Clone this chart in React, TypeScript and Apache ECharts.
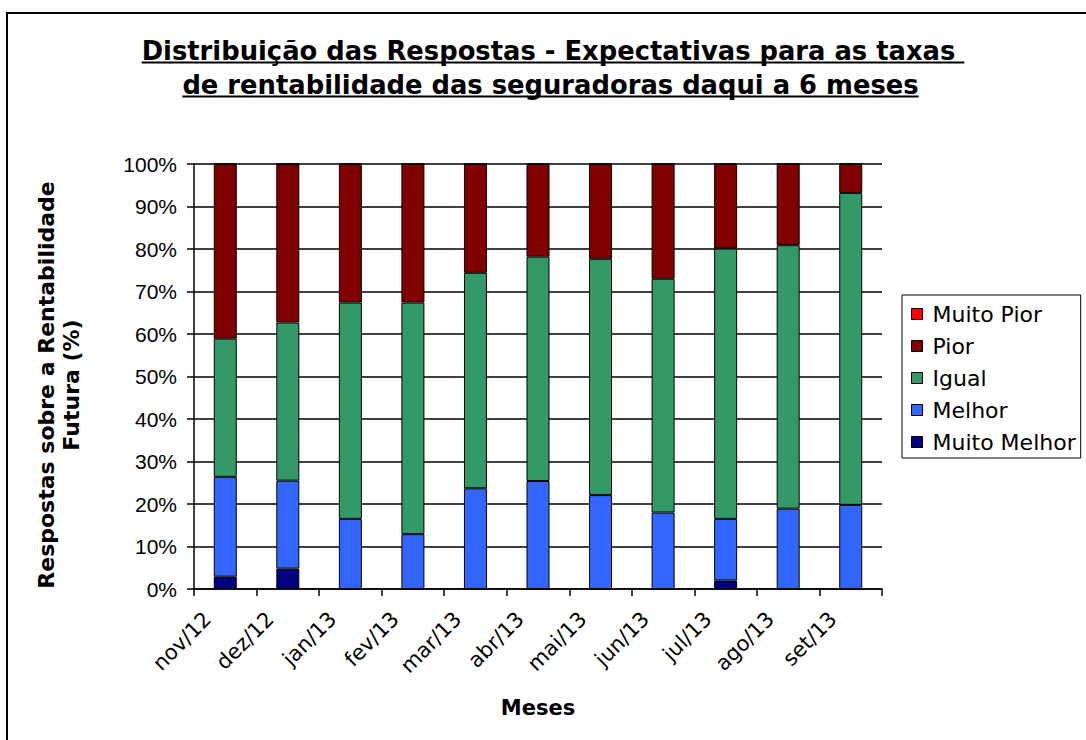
import React, { useEffect, useRef } from "react";
import * as echarts from "echarts";

const categories = ["nov/12", "dez/12", "jan/13", "fev/13", "mar/13", "abr/13", "mai/13", "jun/13", "jul/13", "ago/13", "set/13"];
const muitoMelhor = [2.9, 4.8, 0, 0, 0, 0, 0, 0, 2.0, 0, 0];
const melhor = [23.5, 20.7, 16.5, 12.9, 23.7, 25.4, 22.1, 18.0, 14.5, 18.9, 19.8];
const igual = [32.5, 37.2, 50.9, 54.5, 50.7, 52.8, 55.6, 55.0, 63.6, 62.0, 73.4];
const pior = [41.1, 37.3, 32.6, 32.6, 25.6, 21.8, 22.3, 27.0, 19.9, 19.1, 6.8];
const muitoPior = [0, 0, 0, 0, 0, 0, 0, 0, 0, 0, 0];
const legendOrder = ["Muito Pior", "Pior", "Igual", "Melhor", "Muito Melhor"];
const titleLine1 = "Distribuição das Respostas - Expectativas para as taxas ";
const titleLine2 = "de rentabilidade das seguradoras daqui a 6 meses";
const yAxisTitle = "Respostas sobre a Rentabilidade\nFutura (%)";
const xAxisTitle = "Meses";

const FONT = '"DejaVu Sans", Verdana, sans-serif';

function measure(text: string, font: string): number {
  const c = document.createElement("canvas");
  const ctx = c.getContext("2d");
  if (!ctx) return text.length * 12;
  ctx.font = font;
  return ctx.measureText(text).width;
}

export default function App() {
  const ref = useRef<HTMLDivElement>(null);
  useEffect(() => {
    if (!ref.current) return;
    const chart = echarts.init(ref.current, null, { renderer: "svg" });
    const w100 = measure(titleLine1, `bold 100px ${FONT}`);
    const tfs = Math.round((822 / w100) * 100 * 10) / 10;
    const tw1 = measure(titleLine1, `bold ${tfs}px ${FONT}`);
    const tw2 = measure(titleLine2, `bold ${tfs}px ${FONT}`);
    const c1 = 553;
    const c2 = 550.5;

    const mk = (name: string, data: number[], color: string) => ({
      name,
      type: "bar",
      stack: "total",
      barWidth: 23,
      data,
      itemStyle: { color, borderColor: "#000", borderWidth: 1 },
    });

    chart.setOption({
      animation: false,
      backgroundColor: "#fff",
      grid: { left: 194, right: 204, top: 164, bottom: 151, containLabel: false },
      legend: {
        data: legendOrder,
        orient: "vertical",
        left: 902,
        top: 295,
        itemWidth: 11,
        itemHeight: 11,
        itemGap: 8,
        icon: "rect",
        borderColor: "#000",
        borderWidth: 1,
        padding: [7, 5, 4, 9],
        itemStyle: { borderColor: "#000", borderWidth: 1 },
        textStyle: { fontFamily: FONT, fontSize: 22, color: "#000", lineHeight: 24, padding: [0, 0, 0, 5] },
      },
      xAxis: {
        type: "category",
        data: categories,
        boundaryGap: true,
        name: xAxisTitle,
        nameLocation: "middle",
        nameGap: 108,
        nameTextStyle: { fontFamily: FONT, fontSize: 21, fontWeight: "bold", color: "#000" },
        axisLine: { lineStyle: { color: "#000", width: 1.5 } },
        axisTick: { show: true, interval: 0, length: 7, lineStyle: { color: "#000", width: 1.5 } },
        axisLabel: {
          interval: 0,
          rotate: 45,
          margin: 9,
          padding: [0, 25, 0, 0],
          fontFamily: FONT,
          fontSize: 21,
          color: "#000",
        },
        splitLine: { show: false },
      },
      yAxis: {
        type: "value",
        min: 0,
        max: 100,
        interval: 10,
        name: yAxisTitle,
        nameLocation: "middle",
        nameRotate: 90,
        nameGap: 110,
        nameTextStyle: { fontFamily: FONT, fontSize: 22, fontWeight: "bold", color: "#000", lineHeight: 25, padding: [0, 17, 0, 0] },
        axisLine: { show: true, lineStyle: { color: "#000", width: 1.5 } },
        axisTick: { show: true, length: 7, lineStyle: { color: "#000", width: 1.5 } },
        axisLabel: {
          formatter: "{value}%",
          margin: 17,
          fontFamily: '"Liberation Sans", Arial, sans-serif',
          fontSize: 21,
          color: "#000",
        },
        splitLine: { show: true, lineStyle: { color: "#000", width: 1.5 } },
      },
      series: [
        mk("Muito Melhor", muitoMelhor, "#000080"),
        mk("Melhor", melhor, "#3366FF"),
        mk("Igual", igual, "#339966"),
        mk("Pior", pior, "#800000"),
        mk("Muito Pior", muitoPior, "#FF0000"),
      ],
      graphic: [
        {
          type: "rect",
          shape: { x: 7, y: 13, width: 1100, height: 760 },
          style: { fill: "none", stroke: "#000", lineWidth: 2 },
          silent: true,
          z: -1,
        },
        {
          type: "text",
          x: c1,
          y: 51,
          style: { text: titleLine1, font: `bold ${tfs}px ${FONT}`, fill: "#000", align: "center", verticalAlign: "middle" },
        },
        {
          type: "text",
          x: c2,
          y: 85,
          style: { text: titleLine2, font: `bold ${tfs}px ${FONT}`, fill: "#000", align: "center", verticalAlign: "middle" },
        },
        {
          type: "line",
          shape: { x1: c1 - tw1 / 2, y1: 62.5, x2: c1 + tw1 / 2, y2: 62.5 },
          style: { stroke: "#000", lineWidth: 2 },
        },
        {
          type: "line",
          shape: { x1: c2 - tw2 / 2, y1: 96.5, x2: c2 + tw2 / 2, y2: 96.5 },
          style: { stroke: "#000", lineWidth: 2 },
        },
      ],
    });
    return () => chart.dispose();
  }, []);
  return <div ref={ref} style={{ position: "fixed", left: 0, top: 0, width: 1086, height: 740 }} />;
}
